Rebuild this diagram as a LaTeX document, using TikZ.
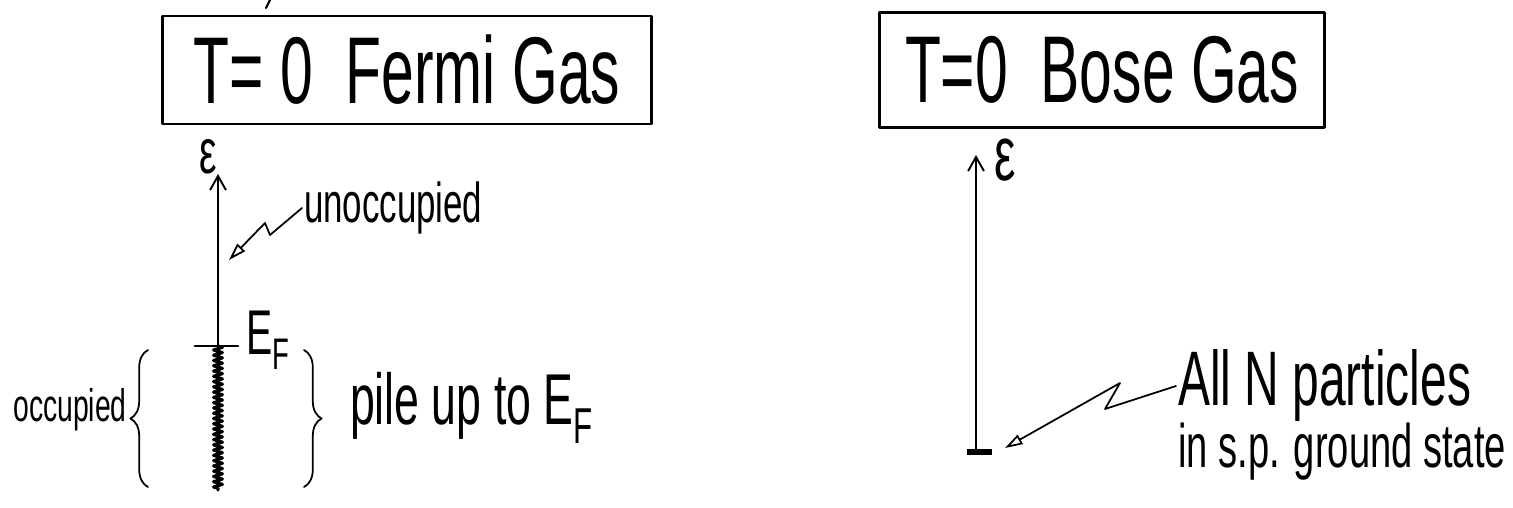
\documentclass[tikz,border=0pt]{standalone}
\usepackage{fontspec}
\setmainfont{Liberation Sans}[FakeStretch=0.62]
\usepackage{tikz}
\usetikzlibrary{positioning, arrows.meta, calc, decorations.pathreplacing, decorations.pathmorphing}
\newcommand{\fsz}[1]{\fontsize{#1}{#1}\selectfont}

\begin{document}
\begin{tikzpicture}[x=0.02cm, y=-0.02cm, line cap=round, line join=round,
  titlebox/.style={draw, line width=1.6pt, inner sep=0pt, font=\fsz{54}},
  hand/.style={inner sep=1pt, font=\fsz{#1}}, hand/.default=30,
  axis/.style={line width=1.1pt, -{Straight Barb[length=8pt, width=9pt]}},
  pointer/.style={line width=1pt, -{Triangle[open, length=10pt, width=6pt]}},
  curly/.style={decorate, decoration={brace, amplitude=10pt}, line width=1pt}]
\useasboundingbox (0,0) rectangle (1513,507);
\draw[line width=1.2pt] (266,8) -- (270,0);
\node[titlebox, minimum width=9.78cm, minimum height=2.16cm] (fermi) at (407,70) {T= 0 \ Fermi Gas};
\node[titlebox, minimum width=8.9cm, minimum height=2.3cm] (bose) at (1102,70) {T=0 \ Bose Gas};
\coordinate (fbot) at (218,490); \coordinate (ef) at (218,346); \coordinate (ftop) at (218,174);
\coordinate (ftip) at (229,260);
\draw[axis] (ef) -- (ftop);
\draw[line width=1.6pt] (195,346) -- (238,346);
\draw[line width=1.8pt, decorate, decoration={zigzag, segment length=3pt, amplitude=2.5pt}] (ef) -- (fbot);
\node[hand=36, inner sep=0pt] (epsF) at (208,157) {ε};
\node[hand=36, anchor=west] (efl) at (244,340) {E\textsubscript{F}};
\node[hand=32, anchor=west] (unocc) at (302,208) {unoccupied};
\draw[pointer] (unocc.west) -- ++(-32,27) -- ++(-5,-12) -- (ftip);
\node[hand=26] (occ) at (70,410) {occupied};
\node[hand=41, anchor=west] (pile) at (348,408) {pile up to E\textsubscript{F}};
\draw[curly] (148,487) -- (148,350);
\draw[curly] (304,350) -- (304,487);
\coordinate (bbot) at (976,452); \coordinate (btop) at (976,155); \coordinate (gtip) at (1005,448);
\draw[axis] (bbot) -- (btop);
\draw[line width=3.5pt, line cap=butt] (967,452) -- (992,452);
\node[hand=44, inner sep=0pt] (epsB) at (1005,160) {ε};
\node[hand=44, anchor=west] (alln) at (1176,386) {All N particles};
\node[hand=35, anchor=north west] (gsl) at ([yshift=2pt]alln.south west) {in s.p. ground state};
\draw[pointer] (alln.west) -- ++(-71,23) -- ++(15,-26) -- (gtip);
\end{tikzpicture}
\end{document}
